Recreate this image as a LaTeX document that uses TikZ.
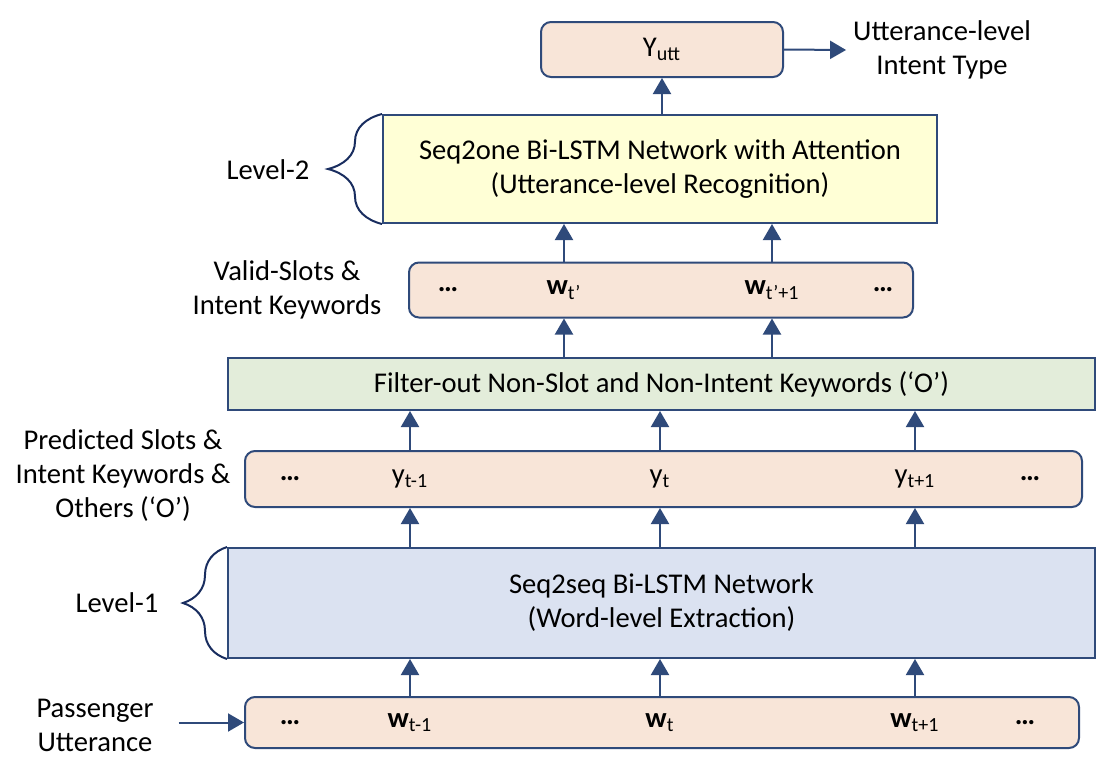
\documentclass[tikz,border=0pt]{standalone}
\usepackage{fontspec}
\setmainfont{Carlito}
\usepackage{tikz}
\usetikzlibrary{arrows.meta,positioning,calc,decorations.pathreplacing}

\definecolor{edgeblue}{RGB}{47,74,122}
\definecolor{bracenavy}{RGB}{25,45,95}
\definecolor{peach}{RGB}{248,229,216}
\definecolor{paleyellow}{RGB}{255,255,214}
\definecolor{palegreen}{RGB}{227,237,218}
\definecolor{paleblue}{RGB}{219,226,241}

\begin{document}
\begin{tikzpicture}[
  x=0.5pt, y=-0.5pt,
  font=\fontsize{14.3}{17}\selectfont,
  rowbox/.style={draw=edgeblue, line width=1pt, rounded corners=5pt, fill=peach},
  netbox/.style={draw=edgeblue, line width=1pt, align=center},
  lbl/.style={align=center},
  arr/.style={draw=edgeblue, line width=1pt, -{Triangle[length=8pt,width=9pt]}},
  lvlbrace/.style={draw=bracenavy, line width=1pt, decorate, decoration={brace, amplitude=#1}}
]
\useasboundingbox (0,0) rectangle (1110,778);

% ---------- Entrada: palabras ----------
\node[rowbox, minimum width=417pt, minimum height=25.5pt] (input) at (662,722.5) {};
\node (inl) at (290,722.5) {\textbf{…}};
\node (wtm) at (410,722.5) {\textbf{w}\textsubscript{t-1}};
\node (wt) at (660,722.5) {\textbf{w}\textsubscript{t}};
\node (wtp) at (915,722.5) {\textbf{w}\textsubscript{t+1}};
\node (inr) at (1025,722.5) {\textbf{…}};

% ---------- Level-1 ----------
\node[netbox, fill=paleblue, minimum width=433.5pt, minimum height=55pt] (lvlone) at (661.5,603)
  {Seq2seq Bi-LSTM Network\\(Word-level Extraction)};

% ---------- Predicciones ----------
\node[rowbox, minimum width=418.5pt, minimum height=28pt] (pred) at (663.5,479) {};
\node (prl) at (290,479) {\textbf{…}};
\node (ytm) at (410,479) {y\textsubscript{t-1}};
\node (yt) at (660,479) {y\textsubscript{t}};
\node (ytp) at (915,479) {y\textsubscript{t+1}};
\node (prr) at (1030,479) {\textbf{…}};

% ---------- Filtro ----------
\node[netbox, fill=palegreen, minimum width=433.5pt, minimum height=26pt] (filter) at (661.5,384)
  {Filter-out Non-Slot and Non-Intent Keywords (`O')};

% ---------- Slots validos ----------
\node[rowbox, minimum width=252pt, minimum height=27.5pt] (valid) at (661,290) {};
\node (val) at (448,290) {\textbf{…}};
\node (wtq) at (564,290) {\textbf{w}\textsubscript{t'}};
\node (wtqp) at (772,290) {\textbf{w}\textsubscript{t'+1}};
\node (var) at (883,290) {\textbf{…}};

% ---------- Level-2 ----------
\node[netbox, fill=paleyellow, minimum width=277pt, minimum height=54pt] (lvltwo) at (660,169)
  {Seq2one Bi-LSTM Network with Attention\\(Utterance-level Recognition)};

% ---------- Salida ----------
\node[rowbox, minimum width=121pt, minimum height=27.5pt] (yutt) at (662,49.5) {Y\textsubscript{utt}};

% ---------- Etiquetas ----------
\node[lbl] (intent) at (942,50) {Utterance-level\\Intent Type};
\node[lbl] (lvltwolbl) at (268,170) {Level-2};
\node[lbl] (validlbl) at (287,290) {Valid-Slots \&\\Intent Keywords};
\node[lbl] (predlbl) at (123,476) {Predicted Slots \&\\Intent Keywords \&\\Others (`O')};
\node[lbl] (lvlonelbl) at (117,603) {Level-1};
\node[lbl] (passlbl) at (95,725) {Passenger\\Utterance};

% ---------- Flechas ----------
\draw[arr, shorten <=9pt] (passlbl.east |- input.west) -- (input.west);
\foreach \c in {wtm,wt,wtp} \draw[arr] (input.north -| \c) -- (lvlone.south -| \c);
\foreach \c in {ytm,yt,ytp} {
  \draw[arr] (lvlone.north -| \c) -- (pred.south -| \c);
  \draw[arr] (pred.north -| \c) -- (filter.south -| \c);
}
\foreach \c in {wtq,wtqp} {
  \draw[arr] (filter.north -| \c) -- (valid.south -| \c);
  \draw[arr] (valid.north -| \c) -- (lvltwo.south -| \c);
}
\draw[arr] (lvltwo.north -| yutt) -- (yutt.south);
\draw[arr] (yutt.east) -- (intent.west);

% ---------- Llaves ----------
\draw[lvlbrace=27pt] (lvltwo.south west) -- (lvltwo.north west);
\draw[lvlbrace=22pt] (lvlone.south west) -- (lvlone.north west);

\end{tikzpicture}
\end{document}
